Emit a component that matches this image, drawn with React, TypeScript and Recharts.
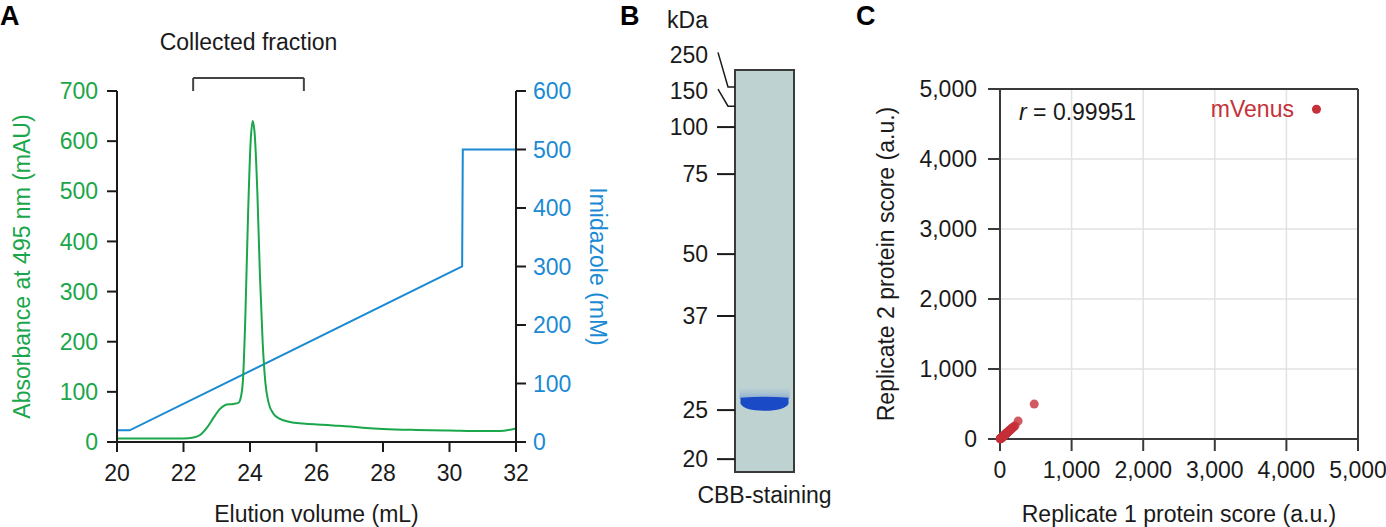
import {
  LineChart,
  Line,
  XAxis,
  YAxis,
  ReferenceLine,
  ScatterChart,
  Scatter,
  ZAxis,
  ReferenceArea,
  CartesianGrid,
  LabelList,
} from "recharts";

const FONT = '"Liberation Sans", Arial, Helvetica, sans-serif';
const GREEN = "#1aa64a";
const BLUE = "#1a8ad4";
const RED = "#c6303a";
const INK = "#1a1a1a";

// ---- Panel A: elution profile ----
const elutionTicks = [20, 22, 24, 26, 28, 30, 32];
const absorbanceTicks = [0, 100, 200, 300, 400, 500, 600, 700];
const imidazoleTicks = [0, 100, 200, 300, 400, 500, 600];

// elution volume (mL) vs absorbance at 495 nm (mAU)
const absorbance = [
  { v: 20.0, a: 7 },
  { v: 21.0, a: 7 },
  { v: 22.0, a: 7 },
  { v: 22.3, a: 9 },
  { v: 22.5, a: 14 },
  { v: 22.7, a: 28 },
  { v: 22.9, a: 48 },
  { v: 23.1, a: 66 },
  { v: 23.3, a: 75 },
  { v: 23.5, a: 76 },
  { v: 23.65, a: 78 },
  { v: 23.72, a: 88 },
  { v: 23.79, a: 125 },
  { v: 23.86, a: 250 },
  { v: 23.94, a: 450 },
  { v: 24.02, a: 600 },
  { v: 24.08, a: 640 },
  { v: 24.14, a: 615 },
  { v: 24.22, a: 500 },
  { v: 24.3, a: 330 },
  { v: 24.38, a: 200 },
  { v: 24.46, a: 120 },
  { v: 24.56, a: 78 },
  { v: 24.7, a: 57 },
  { v: 24.9, a: 46 },
  { v: 25.2, a: 40 },
  { v: 25.6, a: 37 },
  { v: 26.0, a: 35 },
  { v: 26.5, a: 33 },
  { v: 27.0, a: 31 },
  { v: 27.5, a: 28 },
  { v: 28.0, a: 26 },
  { v: 29.0, a: 24 },
  { v: 30.0, a: 23 },
  { v: 31.0, a: 22 },
  { v: 31.5, a: 22 },
  { v: 32.0, a: 27 },
];

// elution volume (mL) vs imidazole gradient (mM)
const imidazole = [
  { v: 20.0, c: 20 },
  { v: 20.38, c: 20 },
  { v: 30.38, c: 300 },
  { v: 30.4, c: 500 },
  { v: 32.0, c: 500 },
];

const fractionStart = 22.29;
const fractionEnd = 25.62;

// ---- Panel B: SDS-PAGE lane ----
const markerKDa = ["250", "150", "100", "75", "50", "37", "25", "20"];
// migration as % of the gel length
const markerMigration = [4.2, 9.0, 14.2, 25.9, 45.8, 61.2, 84.6, 96.8];
const markerLabelShift = [-32.5, -15, 0, 0, 0, 0, 0, 0];
const bands = [{ lane: 0.5, migration: 82.8 }];

// ---- Panel C: replicate correlation ----
const scoreTicks = [0, 1000, 2000, 3000, 4000, 5000];
const proteins = [
  [2, 2], [5, 3], [8, 6], [10, 9], [12, 8], [15, 12], [18, 15], [20, 18],
  [24, 20], [28, 25], [30, 22], [34, 30], [38, 33], [42, 36], [45, 40],
  [50, 44], [55, 50], [60, 52], [65, 58], [70, 62], [75, 68], [80, 72],
  [85, 75], [90, 82], [95, 86], [100, 90], [105, 95], [110, 100],
  [118, 106], [125, 112], [132, 120], [140, 128], [150, 135], [160, 145],
  [170, 155], [180, 165], [195, 178], [210, 188], [253, 256], [478, 499],
].map(([r1, r2]) => ({ r1, r2 }));
const mVenus = [{ r1: 4420, r2: 4710, name: "mVenus" }];

const thousands = (n: number) => String(n).replace(/\B(?=(\d{3})+(?!\d))/g, ",");

function GelTick(props: any) {
  const { x, y, index } = props;
  const shift = markerLabelShift[index] ?? 0;
  const ly = y + shift;
  return (
    <g>
      <text
        x={x - 27}
        y={ly}
        dy="0.36em"
        textAnchor="end"
        fontSize={23}
        fill={INK}
      >
        {markerKDa[index]}
      </text>
      {shift === 0 ? (
        <line x1={x - 18} y1={y} x2={x} y2={y} stroke={INK} strokeWidth={2} />
      ) : (
        <polyline
          points={`${x - 17},${ly - 2} ${x - 7},${y} ${x},${y}`}
          fill="none"
          stroke={INK}
          strokeWidth={1.5}
        />
      )}
    </g>
  );
}

function Band(props: any) {
  const { cx, cy } = props;
  return (
    <g>
      <defs>
        <linearGradient id="haze" x1="0" y1="0" x2="0" y2="1">
          <stop offset="0%" stopColor="#8fb0d6" stopOpacity={0} />
          <stop offset="100%" stopColor="#5f88d0" stopOpacity={0.55} />
        </linearGradient>
      </defs>
      <rect x={cx - 25} y={cy - 16} width={50} height={12} fill="url(#haze)" />
      <path
        d={`M ${cx - 24} ${cy - 5} Q ${cx} ${cy - 7} ${cx + 24} ${cy - 5}
            L ${cx + 24} ${cy + 1} Q ${cx + 20} ${cy + 8} ${cx} ${cy + 8}
            Q ${cx - 20} ${cy + 8} ${cx - 24} ${cy + 1} Z`}
        fill="#1a4ac6"
      />
    </g>
  );
}

function ElutionPanel() {
  return (
    <LineChart width={640} height={527} margin={{ top: 91, right: 0, bottom: 0, left: 0 }}>
      <XAxis
        type="number"
        dataKey="v"
        domain={[20, 32]}
        ticks={elutionTicks}
        allowDataOverflow
        height={85}
        tickSize={10}
        tickMargin={13}
        axisLine={{ stroke: INK, strokeWidth: 2 }}
        tickLine={{ stroke: INK, strokeWidth: 2 }}
        tick={{ fill: INK, fontSize: 23 }}
        label={{ value: "Elution volume (mL)", position: "insideBottom", offset: 5, fill: INK, fontSize: 23 }}
      />
      <YAxis
        yAxisId="left"
        domain={[0, 700]}
        ticks={absorbanceTicks}
        width={117}
        tickSize={10}
        tickMargin={9}
        axisLine={{ stroke: INK, strokeWidth: 2 }}
        tickLine={{ stroke: INK, strokeWidth: 2 }}
        tick={{ fill: GREEN, fontSize: 23 }}
        label={{
          value: "Absorbance at 495 nm (mAU)",
          angle: -90,
          position: "insideLeft",
          offset: 22,
          fill: GREEN,
          fontSize: 23,
          style: { textAnchor: "middle" },
        }}
      />
      <YAxis
        yAxisId="right"
        orientation="right"
        domain={[0, 600]}
        ticks={imidazoleTicks}
        width={124}
        tickSize={10}
        tickMargin={7}
        axisLine={{ stroke: INK, strokeWidth: 2 }}
        tickLine={{ stroke: INK, strokeWidth: 2 }}
        tick={{ fill: BLUE, fontSize: 23 }}
        label={{
          value: "Imidazole (mM)",
          angle: 90,
          position: "insideRight",
          offset: 42,
          fill: BLUE,
          fontSize: 23,
          style: { textAnchor: "middle" },
        }}
      />
      <Line
        yAxisId="right"
        data={imidazole}
        dataKey="c"
        type="linear"
        stroke={BLUE}
        strokeWidth={2}
        dot={false}
        isAnimationActive={false}
      />
      <Line
        yAxisId="left"
        data={absorbance}
        dataKey="a"
        type="monotone"
        stroke={GREEN}
        strokeWidth={2}
        dot={false}
        isAnimationActive={false}
      />
      <ReferenceLine
        yAxisId="left"
        ifOverflow="visible"
        segment={[{ x: fractionStart, y: 726 }, { x: fractionEnd, y: 726 }]}
        stroke="#444"
        strokeWidth={2}
        label={{ value: "Collected fraction", position: "top", offset: 28, fill: INK, fontSize: 23 }}
      />
      <ReferenceLine
        yAxisId="left"
        ifOverflow="visible"
        segment={[{ x: fractionStart, y: 726 }, { x: fractionStart, y: 700 }]}
        stroke="#444"
        strokeWidth={2}
      />
      <ReferenceLine
        yAxisId="left"
        ifOverflow="visible"
        segment={[{ x: fractionEnd, y: 726 }, { x: fractionEnd, y: 700 }]}
        stroke="#444"
        strokeWidth={2}
      />
    </LineChart>
  );
}

function GelPanel() {
  return (
    <ScatterChart width={230} height={527} margin={{ top: 70, right: 76, bottom: 0, left: 0 }}>
      <XAxis
        type="number"
        dataKey="lane"
        domain={[0, 1]}
        height={55}
        tick={false}
        tickLine={false}
        axisLine={false}
        label={{ value: "CBB-staining", position: "insideBottom", offset: 24, fill: INK, fontSize: 23 }}
      />
      <YAxis
        type="number"
        dataKey="migration"
        domain={[0, 100]}
        reversed
        ticks={markerMigration}
        interval={0}
        width={95}
        tickSize={0}
        tickMargin={0}
        tickLine={false}
        axisLine={false}
        tick={<GelTick />}
        label={{ value: "kDa", position: "top", offset: 42, fill: INK, fontSize: 23 }}
      />
      <ReferenceArea
        x1={0}
        x2={1}
        y1={0}
        y2={100}
        fill="#bdd2d1"
        fillOpacity={1}
        stroke="#3a3a3a"
        strokeWidth={2}
      />
      <Scatter data={bands} shape={<Band />} isAnimationActive={false} />
    </ScatterChart>
  );
}

function CorrelationPanel() {
  const axisStroke = { stroke: "#3a3a3a", strokeWidth: 2 };
  return (
    <ScatterChart width={526} height={527} margin={{ top: 89, right: 28, bottom: 0, left: 0 }}>
      <CartesianGrid stroke="#e2e2e2" strokeWidth={1.5} />
      <XAxis
        type="number"
        dataKey="r1"
        domain={[0, 5000]}
        ticks={scoreTicks}
        height={88}
        tickSize={12}
        tickMargin={11}
        tickFormatter={thousands}
        axisLine={axisStroke}
        tickLine={axisStroke}
        tick={{ fill: INK, fontSize: 23 }}
        label={{ value: "Replicate 1 protein score (a.u.)", position: "insideBottom", offset: 5, fill: INK, fontSize: 23 }}
      />
      <YAxis
        type="number"
        dataKey="r2"
        domain={[0, 5000]}
        ticks={scoreTicks}
        width={140}
        tickSize={12}
        tickMargin={11}
        tickFormatter={thousands}
        axisLine={axisStroke}
        tickLine={axisStroke}
        tick={{ fill: INK, fontSize: 23 }}
        label={{
          value: "Replicate 2 protein score (a.u.)",
          angle: -90,
          position: "insideLeft",
          offset: 26,
          fill: INK,
          fontSize: 23,
          style: { textAnchor: "middle" },
        }}
      />
      <ZAxis range={[32, 32]} />
      <ReferenceLine y={5000} stroke="#3a3a3a" strokeWidth={2} />
      <ReferenceLine x={5000} stroke="#3a3a3a" strokeWidth={2} />
      <Scatter data={proteins} fill={RED} fillOpacity={0.8} isAnimationActive={false} />
      <Scatter data={mVenus} fill={RED} isAnimationActive={false}>
        <LabelList dataKey="name" position="left" offset={18} fill={RED} fontSize={23} />
      </Scatter>
    </ScatterChart>
  );
}

export default function App() {
  return (
    <div
      style={{
        position: "absolute",
        left: 0,
        top: 0,
        width: 1386,
        height: 527,
        background: "#fff",
        fontFamily: FONT,
        overflow: "hidden",
      }}
    >
      <div style={{ position: "absolute", left: 0, top: 0 }}>
        <ElutionPanel />
      </div>
      <div style={{ position: "absolute", left: 640, top: 0 }}>
        <GelPanel />
      </div>
      <div style={{ position: "absolute", left: 860, top: 0 }}>
        <CorrelationPanel />
      </div>
      <svg
        width={1386}
        height={527}
        style={{ position: "absolute", left: 0, top: 0, pointerEvents: "none" }}
      >
        <g fontFamily={FONT} fontWeight="bold" fontSize={27} fill="#000">
          <text x={0} y={25}>A</text>
          <text x={620} y={25}>B</text>
          <text x={856} y={25}>C</text>
        </g>
        <text x={1019} y={120} fontFamily={FONT} fontSize={23} fill={INK}>
          <tspan fontStyle="italic">r</tspan> = 0.99951
        </text>
      </svg>
    </div>
  );
}
